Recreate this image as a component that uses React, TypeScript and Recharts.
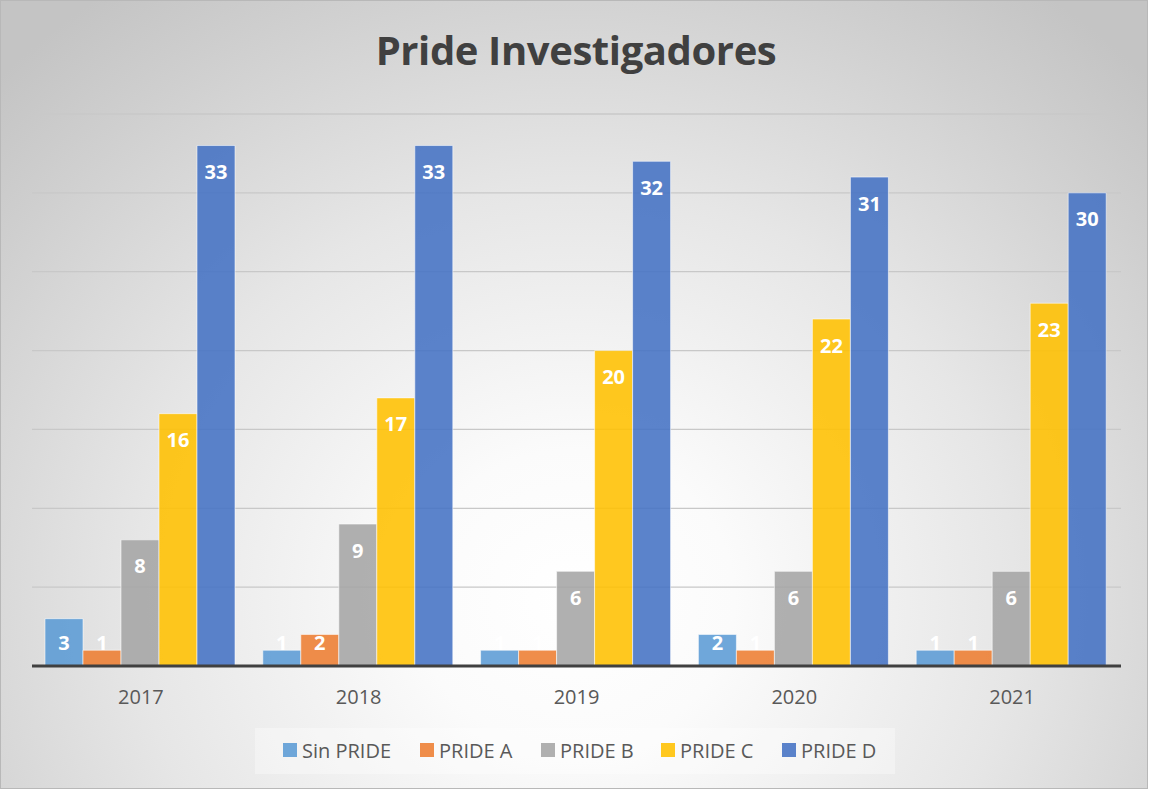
import React from "react";
import { BarChart, Bar, XAxis, YAxis, CartesianGrid, LabelList } from "recharts";

const years = ["2017", "2018", "2019", "2020", "2021"];
const sinPride = [3, 1, 1, 2, 1];
const prideA = [1, 2, 1, 1, 1];
const prideB = [8, 9, 6, 6, 6];
const prideC = [16, 17, 20, 22, 23];
const prideD = [33, 33, 32, 31, 30];
const yTicks = [0, 5, 10, 15, 20, 25, 30, 35];

const seriesNames = ["Sin PRIDE", "PRIDE A", "PRIDE B", "PRIDE C", "PRIDE D"];
const seriesKeys = ["sin", "a", "b", "c", "d"];
const seriesColors = ["#5B9BD5", "#ED7D31", "#A5A5A5", "#FFC000", "#4472C4"];
const seriesValues = [sinPride, prideA, prideB, prideC, prideD];

const data = years.map((y, i) => {
  const row: any = { year: y };
  seriesKeys.forEach((k, s) => {
    row[k] = seriesValues[s][i];
  });
  return row;
});

const FONT = "'Open Sans', 'DejaVu Sans', sans-serif";

const renderLabel = (props: any) => {
  const { x, y, width, height, value } = props;
  const base = y + height;
  const cy = Math.min(y + 26, base - 24);
  return (
    <text
      x={x + width / 2}
      y={cy}
      textAnchor="middle"
      dominantBaseline="central"
      fill="#ffffff"
      fontFamily={FONT}
      fontWeight={700}
      fontSize={20}
    >
      {value}
    </text>
  );
};

const renderTick = (props: any) => {
  const { x, y, payload } = props;
  return (
    <text
      x={x}
      y={y}
      dy={30}
      textAnchor="middle"
      fill="#595959"
      fontFamily={FONT}
      fontSize={20}
    >
      {payload.value}
    </text>
  );
};

const legendLeft = [282, 419, 540, 660, 781];

export default function App() {
  return (
    <div
      style={{
        position: "absolute",
        left: 0,
        top: 0,
        width: 1148,
        height: 789,
        border: "1px solid #b8b8b8",
        boxSizing: "border-box",
        background:
          "radial-gradient(ellipse 70% 95% at 50% 76%, #ffffff 0%, #fbfbfb 20%, #e6e6e6 55%, #cfcfcf 85%, #c4c4c4 100%)",
        overflow: "hidden",
      }}
    >
      <div
        style={{
          position: "absolute",
          left: 0,
          top: 21,
          width: 1150,
          textAlign: "center",
          fontFamily: FONT,
          fontWeight: 700,
          fontSize: 40,
          color: "#404040",
          lineHeight: "56px",
          letterSpacing: -0.4,
        }}
      >
        Pride Investigadores
      </div>
      <div style={{ position: "absolute", left: 0, top: 0 }}>
        <BarChart
          width={1148}
          height={789}
          data={data}
          margin={{ top: 113, right: 28, left: 31, bottom: 84 }}
          barCategoryGap={13}
          barGap={0}
        >
          <CartesianGrid
            vertical={false}
            stroke="#c8c8c8"
            strokeWidth={1.3}
          />
          <YAxis hide domain={[0, 35]} ticks={yTicks} width={0} />
          <XAxis
            dataKey="year"
            height={40}
            axisLine={{ stroke: "#404040", strokeWidth: 3 }}
            tickLine={false}
            tick={renderTick}
          />
          {seriesKeys.map((k, s) => (
            <Bar
              key={k}
              dataKey={k}
              name={seriesNames[s]}
              fill={seriesColors[s]}
              fillOpacity={0.88}
              stroke="rgba(255,255,255,0.55)"
              strokeWidth={1}
              isAnimationActive={false}
            >
              <LabelList dataKey={k} content={renderLabel} />
            </Bar>
          ))}
        </BarChart>
      </div>
      <div
        style={{
          position: "absolute",
          left: 254,
          top: 727,
          width: 640,
          height: 46,
          background: "rgba(255,255,255,0.35)",
        }}
      />
      {seriesNames.map((n, s) => (
        <div
          key={n}
          style={{
            position: "absolute",
            left: legendLeft[s],
            top: 737,
            height: 24,
            display: "flex",
            alignItems: "center",
            fontFamily: FONT,
            fontSize: 20,
            color: "#595959",
            whiteSpace: "nowrap",
          }}
        >
          <span
            style={{
              display: "inline-block",
              width: 14,
              height: 14,
              background: seriesColors[s],
              opacity: 0.88,
              marginRight: 5,
            }}
          />
          {n}
        </div>
      ))}
    </div>
  );
}
